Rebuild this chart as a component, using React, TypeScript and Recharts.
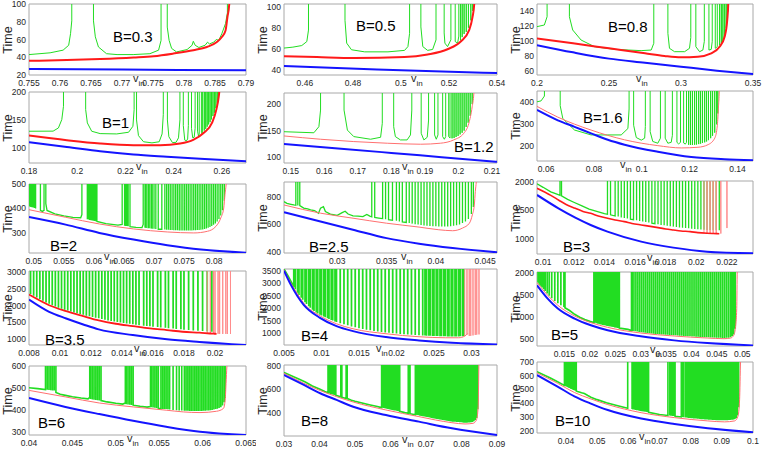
import React from "react";
import { LineChart, Line, XAxis, YAxis, ReferenceArea } from "recharts";

type Pt = [number, number];
type Seg = Pt | Pt[];

// green trace leaves the frame through the top: value used for "off the top"
const T = 1e5;

const INK = "#262626";
const GREEN = "#22dd22";
const BLUE = "#1414ff";

// ---------- B = 0.3 ----------
const X_B03 = [0.755, 0.76, 0.765, 0.77, 0.775, 0.78, 0.785, 0.79];
const Y_B03 = [20, 40, 60, 80, 100];
const BLUE_B03: Pt[] = [[0.755, 26.8], [0.77, 26.1], [0.79, 25.3]];
const RED_B03: Pt[] = [[0.755, 36], [0.7611, 36.8], [0.7665, 37.9], [0.7719, 39.7], [0.7751, 41.2], [0.7783, 44.2], [0.7815, 47.9], [0.7837, 51.6], [0.7853, 57.2], [0.7861, 62.8], [0.7867, 70.2], [0.787, 85], [0.7873, 100], [0.7874, 120]];
const GREEN_B03: Seg[] = [
  [[0.755, 43], [0.7584, 45], [0.7605, 48], [0.7614, 53.5], [0.7617, 66.5], [0.7619, 81]],
  [[0.7654, 81], [0.7657, 63], [0.7662, 51.6], [0.7675, 44], [0.7692, 43], [0.7718, 43], [0.7745, 44], [0.7759, 48], [0.7763, 59]],
  [[0.7773, 74], [0.7776, 59], [0.778, 50], [0.7788, 46], [0.7805, 48.7], [0.7813, 53.5], [0.7815, 58], [0.7818, 53.5], [0.7824, 51], [0.7834, 53.5], [0.7838, 57], [0.7841, 55], [0.7848, 57], [0.7852, 60], [0.7856, 59], [0.7861, 66.5], [0.7867, 78], [0.787, 90]],
];

// ---------- B = 0.5 ----------
const X_B05 = [0.46, 0.48, 0.5, 0.52, 0.54];
const Y_B05 = [40, 60, 80, 100];
const BLUE_B05: Pt[] = [[0.4513, 43.6], [0.49, 40.3], [0.54, 36.8]];
const RED_B05: Pt[] = [[0.4513, 52.8], [0.465, 52], [0.4807, 51.2], [0.5015, 52], [0.5111, 54.5], [0.5194, 59.5], [0.5249, 66.8], [0.5284, 77.7], [0.5298, 90], [0.5305, 102], [0.5307, 120]];
const GREEN_B05: Seg[] = [
  [[0.4513, 60.6], [0.455, 61.5], [0.4587, 63], [0.4608, 66.8], [0.4615, 77.7]],
  [[0.4767, 87], [0.4774, 65.3], [0.4794, 59], [0.4849, 57], [0.4946, 57], [0.5015, 58.4], [0.5029, 62], [0.5036, 74.6]],
  [[0.5083, 80.7], [0.5091, 62], [0.5111, 58.4], [0.5132, 59.3], [0.5146, 68.4]],
  [[0.518, 75], [0.5183, 65.3], [0.5194, 62], [0.5208, 68.4]],
  [[0.5226, 66.8], [0.5236, 65.3], [0.5241, 72]],
  [0.5248, 68], [0.5255, 71], [0.5263, 74], [0.5272, 76], [0.5281, 80], [0.5291, 87], [0.5299, 96],
];

// ---------- B = 0.8 ----------
const X_B08 = [0.2, 0.25, 0.3, 0.35];
const Y_B08 = [60, 80, 100, 120, 140];
const BLUE_B08: Pt[] = [[0.2, 95], [0.225, 85.3], [0.25, 76.9], [0.275, 71.5], [0.3, 66.1], [0.325, 60.8], [0.35, 56.3]];
const RED_B08: Pt[] = [[0.2, 104], [0.225, 97.4], [0.25, 90.7], [0.275, 84], [0.2885, 80.4], [0.3, 78.6], [0.3117, 79.5], [0.321, 84], [0.3268, 92.9], [0.3303, 106.3], [0.3321, 128.6], [0.3328, 150], [0.333, 170]];
const GREEN_B08: Seg[] = [
  [[0.2, 119.7], [0.2051, 121.9], [0.207, 133]],
  [[0.2225, 133], [0.2248, 115.2], [0.2306, 101.8], [0.2399, 92.9], [0.2538, 89.3], [0.2723, 87.6], [0.2793, 88.4], [0.2811, 97.4]],
  [[0.2909, 110.7], [0.292, 90.7], [0.2955, 86.2], [0.3025, 86.2], [0.3059, 90.7], [0.3068, 105]],
  [[0.3103, 92.9], [0.3129, 86.2], [0.3152, 88.4], [0.3162, 100]],
  [[0.3194, 88.4], [0.321, 89.3], [0.3217, 100]],
  [[0.3238, 90.7], [0.3252, 93]],
  [0.3268, 95], [0.328, 97.5], [0.3291, 100], [0.3303, 108], [0.3314, 118], [0.3326, 140],
];

// ---------- B = 1 ----------
const X_B1 = [0.18, 0.2, 0.22, 0.24, 0.26];
const Y_B1 = [100, 150, 200];
const BLUE_B1: Pt[] = [[0.18, 110], [0.1957, 101.8], [0.2095, 94], [0.2233, 88], [0.2372, 84], [0.251, 80.4], [0.27, 76.2]];
const RED_B1: Pt[] = [[0.18, 122], [0.1957, 113.7], [0.2095, 107.8], [0.2233, 104.8], [0.2344, 104.8], [0.2427, 107.8], [0.2483, 114.9], [0.2524, 126.8], [0.2559, 144.7], [0.2577, 168.5], [0.2587, 192], [0.2589, 200], [0.259, 230]];
const GREEN_B1: Seg[] = [
  [[0.18, 129.8], [0.19, 130], [0.1922, 135.7], [0.1936, 150.6], [0.1943, 174.4]],
  [[0.2035, 168.5], [0.2042, 144.7], [0.206, 129.8], [0.2095, 125.6], [0.2164, 125], [0.2213, 128], [0.2231, 138.7], [0.2236, 168.5]],
  [[0.2246, 150], [0.2254, 122], [0.2275, 111], [0.231, 109], [0.234, 111], [0.2352, 125], [0.2357, 160]],
  [[0.2374, 150], [0.238, 120], [0.2395, 109.5], [0.241, 110], [0.242, 118], [0.2426, 150]],
  [[0.244, 140], [0.2446, 114], [0.2452, 112], [0.2458, 116], [0.2461, 140]],
  [[0.2474, 135], [0.2479, 118], [0.2485, 119], [0.2489, 135]],
  [[0.2499, 130], [0.2503, 121], [0.2506, 125]],
  [[0.2515, 128], [0.2518, 125], [0.252, 130]],
  [0.2527, 131], [0.2533, 134], [0.2539, 138], [0.2545, 142], [0.2551, 146], [0.2557, 151], [0.2563, 157], [0.2569, 163], [0.2575, 171], [0.2581, 181], [0.2587, 196],
];

// ---------- B = 1.2 ----------
const X_B12 = [0.15, 0.16, 0.17, 0.18, 0.19, 0.2, 0.21];
const Y_B12 = [100, 150, 200];
const BLUE_B12: Pt[] = [[0.148, 125], [0.165, 116], [0.18, 108], [0.195, 100], [0.2115, 91.3]];
const RED_B12: Pt[] = [[0.148, 140], [0.1589, 133.8], [0.1688, 129.4], [0.1788, 126.3], [0.1887, 124.4], [0.1946, 126.3], [0.1986, 132.5], [0.2016, 145], [0.2031, 163.8], [0.2041, 195], [0.2046, 221], [0.2047, 240]];
const GREEN_B12: Seg[] = [
  [[0.148, 148], [0.1569, 146], [0.1584, 157.5], [0.1589, 188.8]],
  [[0.1659, 188.8], [0.1669, 151], [0.1688, 138.8], [0.1738, 133.8], [0.1768, 137.5], [0.1773, 163.8]],
  [[0.1807, 157.5], [0.1812, 138.8], [0.1827, 132.5], [0.1847, 132.5], [0.1857, 141.9], [0.1861, 188.8]],
  [[0.1889, 145], [0.1897, 132.5], [0.1907, 137.5], [0.1911, 170]],
  [[0.1929, 141.9], [0.1934, 133.8], [0.1939, 141.9]],
  [[0.1953, 138.8], [0.1958, 133.8], [0.1962, 138.8]],
  [[0.1971, 138.8], [0.1975, 136]],
  [0.1981, 135.5], [0.1987, 136], [0.1993, 138], [0.1999, 140], [0.2005, 143], [0.2011, 146], [0.2017, 150], [0.2023, 157], [0.2029, 165], [0.2035, 178], [0.2041, 200],
];

// ---------- B = 1.6 ----------
const X_B16 = [0.06, 0.08, 0.1, 0.12, 0.14];
const Y_B16 = [200, 300, 400];
const BLUE_B16: Pt[] = [[0.0562, 365.8], [0.0649, 318.4], [0.0719, 288.8], [0.0788, 259], [0.0858, 229.6], [0.0928, 207], [0.1067, 175], [0.1207, 151], [0.1346, 140.8], [0.1465, 136.4]];
const RED_B16: Pt[] = [[0.0562, 382], [0.0649, 333], [0.0788, 274], [0.0928, 229.6], [0.1067, 203], [0.1165, 192.6], [0.1235, 195.6], [0.1277, 207.4], [0.1305, 237], [0.1316, 296], [0.1321, 385], [0.1324, 452], [0.1325, 500]];
const GREEN_B16: Seg[] = [
  [[0.0562, 402.8], [0.0579, 407], [0.0593, 429]],
  [[0.0659, 385], [0.067, 326], [0.0719, 274], [0.0788, 251.8], [0.0858, 251.8], [0.0914, 251.8], [0.0942, 281], [0.0947, 370]],
  [[0.0966, 296], [0.0977, 240], [0.0998, 228], [0.1012, 237], [0.1015, 290]],
  [[0.1035, 266.6], [0.1046, 222], [0.1067, 214], [0.1078, 237]],
  [[0.1098, 237], [0.1109, 214], [0.1123, 218], [0.1128, 250]],
  [[0.1147, 218], [0.1154, 211], [0.1162, 218]],
  [[0.1175, 215], [0.1182, 210], [0.1187, 218]],
  [0.1196, 207], [0.1204, 206], [0.1212, 206], [0.1221, 207], [0.1229, 208], [0.1238, 210], [0.1246, 212], [0.1254, 215], [0.1263, 218], [0.1271, 222], [0.1279, 228], [0.1288, 237], [0.1296, 248], [0.1305, 262], [0.1313, 300], [0.1318, 350],
];

// ---------- B = 2 ----------
const X_B2 = [0.05, 0.055, 0.06, 0.065, 0.07, 0.075, 0.08];
const Y_B2 = [300, 400, 500];
const BLUE_B2: Pt[] = [[0.0492, 365], [0.0553, 334], [0.0609, 300], [0.0666, 272.8], [0.0722, 249.7], [0.0778, 232], [0.0853, 219]];
const RED_B2: Pt[] = [[0.0492, 395], [0.0553, 364], [0.0609, 336.7], [0.0666, 316.3], [0.0722, 304], [0.0766, 300], [0.0789, 306.8], [0.0803, 327], [0.0811, 361], [0.0816, 402], [0.0818, 456], [0.082, 501], [0.0821, 540]];
const GREEN_B2: Seg[] = [
  [0.0493, 408], [0.0495, 406], [0.0497, 405], [0.0499, 404], [0.0501, 402], [0.0503, 400],
  [[0.0511, 392], [0.0514, 388], [0.0517, 392]],
  [[0.052, 420], [0.0522, 392], [0.0535, 378], [0.055, 370], [0.0565, 364], [0.0578, 362], [0.058, 375]],
  [0.0589, 356], [0.0591, 355], [0.0593, 353], [0.0595, 352], [0.0597, 351], [0.0599, 350], [0.0601, 349], [0.0603, 348],
  [[0.0605, 347], [0.062, 338], [0.064, 332], [0.0647, 335]],
  [0.0651, 329], [0.0653, 328], [0.0655, 328], [0.0657, 327],
  [[0.066, 326], [0.067, 323], [0.068, 322], [0.0682, 335]],
  [0.0685, 321], [0.0687, 320], [0.069, 319], [0.0692, 319], [0.0695, 318], [0.0697, 317], [0.07, 317], [0.0703, 316],
  [[0.0707, 315], [0.0713, 315]],
  [0.0718, 314], [0.0721, 313], [0.0724, 313], [0.0727, 312], [0.073, 312], [0.0733, 311], [0.0736, 311], [0.0739, 311], [0.0742, 310], [0.0745, 310], [0.0748, 310], [0.0751, 310], [0.0754, 310], [0.0757, 310], [0.076, 310], [0.0763, 310], [0.0766, 311], [0.0769, 311], [0.0772, 312], [0.0775, 312], [0.0778, 313], [0.0781, 314], [0.0784, 316], [0.0787, 318], [0.079, 321], [0.0793, 324], [0.0796, 328], [0.0799, 333], [0.0802, 339], [0.0805, 347], [0.0808, 357], [0.0811, 371], [0.0814, 393], [0.0817, 432],
];

// ---------- B = 2.5 ----------
const X_B25 = [0.03, 0.035, 0.04, 0.045];
const Y_B25 = [400, 600, 800];
const BLUE_B25: Pt[] = [[0.0246, 688], [0.0283, 621], [0.0316, 562], [0.035, 502], [0.0383, 462], [0.0417, 431], [0.0462, 400]];
const RED_B25: Pt[] = [[0.0246, 740], [0.0283, 681], [0.0316, 645], [0.035, 609], [0.0383, 581], [0.0403, 562], [0.0417, 555], [0.0427, 574], [0.0434, 609], [0.0437, 669], [0.0439, 740], [0.044, 836], [0.0441, 905], [0.0442, 1000]];
const GREEN_B25: Seg[] = [
  [[0.0246, 764], [0.0249, 752], [0.0253, 745], [0.0256, 740], [0.0258, 738]],
  [0.026, 736],
  [[0.0262, 735], [0.0266, 717], [0.027, 712], [0.0273, 705], [0.0277, 700], [0.0281, 681], [0.0283, 717], [0.0286, 728], [0.0288, 693], [0.0293, 675], [0.03, 665], [0.0305, 685], [0.0308, 695], [0.0311, 675], [0.0316, 662], [0.0321, 660], [0.0326, 656], [0.033, 672], [0.0333, 660], [0.0335, 655]],
  [[0.0338, 650], [0.0342, 646], [0.0346, 642]],
  [0.0349, 638],
  [[0.0352, 634], [0.0356, 630]],
  [0.036, 626], [0.0363, 622],
  [[0.0366, 618], [0.037, 614]],
  [0.0373, 610], [0.0376, 606], [0.0379, 602], [0.0382, 599], [0.0385, 596], [0.0388, 593], [0.0391, 591], [0.0394, 589], [0.0397, 588], [0.04, 587], [0.0403, 586], [0.0406, 585], [0.0409, 585], [0.0412, 586], [0.0415, 587], [0.0418, 590], [0.0421, 594], [0.0424, 600], [0.0427, 610], [0.043, 622], [0.0433, 640], [0.0436, 675], [0.0438, 725],
];

// ---------- B = 3 ----------
const X_B3 = [0.01, 0.012, 0.014, 0.016, 0.018, 0.02, 0.022];
const Y_B3 = [1000, 1500, 2000];
const BLUE_B3: Pt[] = [[0.0096, 1767], [0.011, 1534], [0.0121, 1372], [0.0131, 1244], [0.0142, 1128], [0.0164, 954], [0.0185, 849], [0.0207, 779], [0.0237, 750]];
const RED_B3: Pt[] = [[0.0096, 1883], [0.0105, 1760], [0.011, 1680], [0.0115, 1600], [0.0121, 1534], [0.0126, 1480], [0.0131, 1447], [0.0136, 1400], [0.0142, 1360], [0.0147, 1330], [0.0153, 1302], [0.0158, 1270], [0.0164, 1244], [0.017, 1220], [0.0175, 1198], [0.018, 1175], [0.0185, 1157], [0.019, 1140], [0.0196, 1128], [0.0201, 1110], [0.0207, 1099], [0.0211, 1095], [0.0215, 1092]];
const RSPK_B3: Seg[] = [[0.0205, 1105], [0.0207, 1100], [0.0209, 1098], [0.0211, 1096], [0.0213, 1095], [0.0216, 1094], [0.022, 1190]];
const GREEN_B3: Seg[] = [
  [[0.0096, 1960], [0.01, 1900], [0.0105, 1820], [0.0109, 1780], [0.0111, 1760]],
  [[0.0112, 1750], [0.0116, 1690], [0.012, 1640], [0.0125, 1580], [0.013, 1520], [0.0135, 1480], [0.014, 1440], [0.0142, 1430]],
  [[0.0144, 1420], [0.0147, 1400]],
  [0.0149, 1390], [0.0151, 1375], [0.0153, 1365], [0.0155, 1355],
  [[0.0157, 1345], [0.0159, 1335]],
  [0.0161, 1325], [0.0163, 1315], [0.0165, 1305], [0.0167, 1295], [0.0169, 1285],
  [[0.0171, 1275], [0.0173, 1265]],
  [0.0175, 1255], [0.0177, 1245], [0.0179, 1238], [0.0181, 1230], [0.0183, 1222], [0.0185, 1215], [0.0187, 1208], [0.0189, 1200], [0.0191, 1195], [0.0193, 1190], [0.0195, 1186], [0.0197, 1180], [0.0199, 1175], [0.0201, 1170], [0.0203, 1165], [0.0205, 1160], [0.0207, 1157], [0.0209, 1155], [0.0211, 1152], [0.0213, 1150], [0.0215, 1150],
];

// ---------- B = 3.5 ----------
const X_B35 = [0.008, 0.01, 0.012, 0.014, 0.016, 0.018, 0.02];
const Y_B35 = [1000, 1500, 2000, 2500, 3000];
const BLUE_B35: Pt[] = [[0.008, 2176], [0.0093, 1813], [0.0104, 1617], [0.0115, 1441], [0.0125, 1294], [0.0147, 1127], [0.0169, 1000], [0.019, 922], [0.022, 833]];
const RED_B35: Pt[] = [[0.008, 2323], [0.0093, 2009], [0.0104, 1833], [0.0115, 1686], [0.0125, 1559], [0.0136, 1461], [0.0147, 1392], [0.0158, 1323], [0.0169, 1274], [0.0179, 1225], [0.019, 1196], [0.0199, 1167], [0.0201, 1164]];
const RSPK_B35: Seg[] = [[0.0195, 1180], [0.0197, 1175], [0.0199, 1168], [0.02, 1166], [0.0202, 1163], [0.0203, 1162], [0.0205, 1160], [0.0207, 1160], [0.0208, 1159], [0.021, 1158]];
const GREEN_B35: Seg[] = [
  [0.0081, 2340], [0.0083, 2290], [0.0085, 2240], [0.0087, 2190], [0.0089, 2140], [0.0091, 2090], [0.0093, 2050], [0.0095, 2010], [0.0097, 1970], [0.0099, 1935], [0.0101, 1905], [0.0103, 1875], [0.0105, 1850], [0.0107, 1820], [0.0109, 1795], [0.0111, 1770], [0.0113, 1750], [0.0115, 1725], [0.0117, 1700], [0.0119, 1680], [0.0121, 1660], [0.0123, 1640], [0.0125, 1620], [0.0127, 1600], [0.0129, 1580], [0.0131, 1560], [0.0133, 1545], [0.0135, 1530], [0.0137, 1515], [0.0139, 1500], [0.0141, 1485], [0.0143, 1470], [0.0145, 1458], [0.0147, 1445], [0.0149, 1432], [0.0151, 1420], [0.0154, 1405], [0.0156, 1395], [0.0158, 1385], [0.016, 1375], [0.0163, 1362], [0.0165, 1352], [0.0168, 1340], [0.017, 1330], [0.0173, 1318], [0.0175, 1308], [0.0178, 1295], [0.018, 1285], [0.0183, 1275], [0.0186, 1265], [0.0189, 1255], [0.0192, 1245], [0.0195, 1235], [0.0198, 1225],
];

// ---------- B = 4 ----------
const X_B4 = [0.005, 0.01, 0.015, 0.02, 0.025, 0.03];
const Y_B4 = [1000, 1500, 2000, 2500, 3000, 3500];
const BLUE_B4: Pt[] = [[0.005, 3495], [0.0059, 2940], [0.0068, 2478], [0.0076, 2148], [0.0098, 1620], [0.012, 1290], [0.0142, 1092], [0.0186, 855], [0.023, 723], [0.0274, 630], [0.0334, 564]];
const RED_B4: Pt[] = [[0.005, 3534], [0.0059, 3006], [0.0068, 2570], [0.0076, 2214], [0.0098, 1700], [0.012, 1383], [0.0142, 1185], [0.0186, 987], [0.023, 868], [0.0265, 828], [0.0283, 828], [0.0291, 894], [0.0295, 1000]];
const RSPK_B4: Seg[] = [[0.0291, 894], [0.0294, 950], [0.0297, 900], [0.0299, 905], [0.0302, 920], [0.0305, 940], [0.0307, 950], [0.031, 960]];
const GREEN_B4: Seg[] = [
  [[0.005, 3560], [0.0055, 3300], [0.006, 3030], [0.0063, 2850]],
  [0.0065, 2760], [0.0068, 2620], [0.007, 2530], [0.0073, 2420], [0.0075, 2340], [0.0078, 2240], [0.008, 2170], [0.0083, 2080], [0.0085, 2020], [0.0088, 1940], [0.009, 1890], [0.0093, 1830], [0.0095, 1790], [0.0098, 1740], [0.01, 1710], [0.0103, 1670], [0.0105, 1640], [0.0108, 1600], [0.011, 1570], [0.0113, 1535], [0.0115, 1510], [0.0118, 1478], [0.012, 1455], [0.0125, 1405], [0.013, 1360], [0.0135, 1320], [0.014, 1280], [0.0145, 1245], [0.015, 1210], [0.0155, 1180], [0.016, 1150], [0.0165, 1125], [0.017, 1100], [0.0175, 1078], [0.018, 1058], [0.0185, 1040], [0.019, 1025], [0.0195, 1010], [0.02, 995], [0.0205, 980], [0.021, 968], [0.0215, 957], [0.022, 947], [0.0225, 937], [0.023, 928], [0.0235, 920], [0.0238, 916], [0.024, 912], [0.0243, 908], [0.0245, 905], [0.0248, 902], [0.025, 899], [0.0253, 896], [0.0255, 893], [0.0258, 890], [0.026, 888], [0.0263, 886], [0.0265, 884], [0.0268, 882], [0.027, 880], [0.0273, 879], [0.0275, 878], [0.0278, 878], [0.028, 878], [0.0283, 880], [0.0285, 883], [0.0288, 888], [0.029, 895],
];

// ---------- B = 5 ----------
const X_B5 = [0.015, 0.02, 0.025, 0.03, 0.035, 0.04, 0.045, 0.05];
const Y_B5 = [500, 1000, 1500, 2000];
const BLUE_B5: Pt[] = [[0.0096, 1721], [0.0117, 1420], [0.0137, 1194], [0.017, 967], [0.0202, 817], [0.0235, 704], [0.03, 568], [0.0366, 477], [0.0431, 417], [0.0521, 364]];
const RED_B5: Pt[] = [[0.0096, 1782], [0.0117, 1495], [0.0137, 1269], [0.017, 1028], [0.0202, 877], [0.0235, 771], [0.03, 643], [0.0366, 575], [0.0431, 530], [0.0464, 515], [0.0477, 530], [0.0483, 590], [0.0487, 817], [0.0489, 1194], [0.049, 2020], [0.0491, 2200]];
const GREEN_B5: Seg[] = [
  [0.0098, 1785], [0.01, 1755], [0.0102, 1725], [0.0104, 1700], [0.0106, 1670], [0.0109, 1630], [0.0112, 1590], [0.0116, 1535], [0.012, 1485], [0.0125, 1425], [0.0131, 1365], [0.0137, 1315], [0.0143, 1270], [0.0149, 1230],
  [[0.0151, 1215], [0.016, 1150], [0.017, 1065], [0.018, 1000], [0.019, 945], [0.02, 905], [0.0208, 880]],
  [0.021, 872], [0.0213, 862], [0.0216, 852], [0.0219, 843], [0.0222, 834], [0.0225, 826], [0.0228, 818], [0.0231, 810], [0.0234, 802], [0.0237, 795], [0.024, 788], [0.0243, 782], [0.0246, 776], [0.0249, 770], [0.0252, 764], [0.0255, 758],
  [[0.0258, 754], [0.0265, 742], [0.0275, 725], [0.0282, 700]],
  [0.0285, 690], [0.0289, 682], [0.0293, 675], [0.0297, 668], [0.0301, 661], [0.0305, 655], [0.0309, 649], [0.0313, 643], [0.0317, 638], [0.0321, 633], [0.0325, 628], [0.0329, 623], [0.0333, 619], [0.0337, 615], [0.0341, 611], [0.0345, 608], [0.0349, 605], [0.0353, 602], [0.0357, 599], [0.0361, 596], [0.0365, 593], [0.0369, 590], [0.0373, 587], [0.0377, 584], [0.0381, 581], [0.0385, 578], [0.0389, 575], [0.0393, 572], [0.0397, 569], [0.0401, 566], [0.0405, 563], [0.0409, 560], [0.0413, 557], [0.0417, 554], [0.0421, 552], [0.0425, 549], [0.0429, 547], [0.0433, 545], [0.0437, 543], [0.0441, 541], [0.0445, 539], [0.0449, 537], [0.0453, 535], [0.0457, 534], [0.0461, 533], [0.0465, 533], [0.0469, 534], [0.0473, 537], [0.0477, 548], [0.048, 575], [0.0483, 610], [0.0486, 740],
];

// ---------- B = 6 ----------
const X_B6 = [0.04, 0.045, 0.05, 0.055, 0.06, 0.065];
const Y_B6 = [300, 400, 500, 600];
const BLUE_B6: Pt[] = [[0.04, 455], [0.0442, 414], [0.0481, 381], [0.052, 350], [0.0558, 323], [0.0597, 300], [0.065, 285]];
const RED_B6: Pt[] = [[0.04, 490], [0.0442, 460], [0.0481, 432], [0.052, 414], [0.0558, 399], [0.0578, 391], [0.0597, 388], [0.0616, 394], [0.0624, 407], [0.0626, 445], [0.0627, 521], [0.0628, 601], [0.0629, 650]];
const GREEN_B6: Seg[] = [
  [[0.04, 502], [0.041, 498], [0.0419, 494]],
  [0.0421, 493], [0.0423, 492], [0.0425, 491], [0.0427, 490], [0.0429, 489],
  [[0.0431, 480], [0.0436, 472], [0.0442, 467], [0.045, 461], [0.046, 455], [0.0468, 451], [0.047, 458]],
  [0.0471, 450], [0.0473, 448], [0.0475, 447], [0.0477, 446], [0.0479, 445], [0.0481, 444],
  [[0.0483, 443], [0.049, 437], [0.05, 431], [0.0508, 427], [0.0511, 432]],
  [0.0512, 426], [0.0514, 425], [0.0516, 424], [0.0518, 423],
  [[0.052, 422], [0.0528, 417], [0.0536, 413], [0.054, 416]],
  [0.0541, 412], [0.0543, 411], [0.0545, 410], [0.0547, 409],
  [[0.0549, 408], [0.0552, 406]],
  [0.0554, 405], [0.0556, 404], [0.0558, 404], [0.056, 403], [0.0562, 402], [0.0566, 400], [0.057, 399], [0.0573, 398], [0.0576, 397], [0.0579, 396],
  [0.0581, 396], [0.0583, 396], [0.0585, 395], [0.0587, 395], [0.0589, 395], [0.0591, 395], [0.0593, 395], [0.0595, 395], [0.0597, 395], [0.0599, 395], [0.0601, 396], [0.0603, 396], [0.0605, 397], [0.0607, 398], [0.0609, 399], [0.0611, 400], [0.0613, 402], [0.0615, 404], [0.0617, 406], [0.0619, 409], [0.0621, 413], [0.0623, 420], [0.0625, 435], [0.0626, 455],
];

// ---------- B = 8 ----------
const X_B8 = [0.03, 0.04, 0.05, 0.06, 0.07, 0.08, 0.09];
const Y_B8 = [400, 600, 800];
const BLUE_B8: Pt[] = [[0.03, 723], [0.0356, 637], [0.0402, 566], [0.0448, 509], [0.0495, 451], [0.0587, 380], [0.068, 323], [0.0773, 266], [0.09, 209]];
const RED_B8: Pt[] = [[0.03, 737], [0.0356, 651], [0.0402, 589], [0.0448, 537], [0.0495, 491], [0.0587, 423], [0.068, 366], [0.0727, 337], [0.0773, 314], [0.081, 303], [0.0833, 309], [0.0842, 337], [0.0847, 451], [0.0849, 808], [0.085, 900]];
const GREEN_B8: Seg[] = [
  [[0.03, 745], [0.034, 690], [0.036, 662], [0.038, 628], [0.04, 602], [0.0415, 581], [0.0424, 570]],
  [0.0426, 568], [0.0428, 565], [0.043, 562], [0.0432, 560], [0.0434, 558], [0.0437, 555], [0.044, 554], [0.0443, 551],
  [[0.0446, 549], [0.0455, 540], [0.046, 535]],
  [[0.0463, 532], [0.047, 526], [0.0475, 522]],
  [[0.0478, 520], [0.048, 518], [0.049, 507], [0.05, 498], [0.052, 483], [0.054, 468], [0.056, 454], [0.0575, 443]],
  [0.0578, 441], [0.0581, 439], [0.0584, 437], [0.0587, 435], [0.059, 433], [0.0593, 431], [0.0596, 429], [0.0599, 427], [0.0602, 425], [0.0605, 423], [0.0608, 421], [0.0611, 419], [0.0614, 418], [0.0617, 416], [0.062, 414], [0.0623, 413],
  [[0.0626, 411], [0.064, 400], [0.065, 394]],
  [0.0652, 393],
  [[0.0655, 391], [0.067, 382]],
  [0.0671, 381], [0.0675, 379], [0.0679, 377], [0.0683, 374], [0.0687, 372], [0.0691, 370], [0.0695, 367], [0.0699, 365], [0.0703, 362], [0.0707, 360], [0.0711, 358], [0.0715, 355], [0.0719, 353], [0.0723, 350], [0.0727, 347], [0.0731, 345], [0.0735, 343], [0.0739, 341], [0.0743, 339], [0.0747, 337], [0.0751, 335], [0.0755, 333], [0.0759, 331], [0.0763, 329], [0.0767, 327], [0.0771, 325], [0.0775, 323], [0.0779, 322], [0.0783, 321], [0.0787, 320], [0.0791, 319], [0.0795, 318], [0.0799, 317], [0.0803, 315], [0.0807, 314], [0.0811, 313], [0.0815, 314], [0.0819, 315], [0.0823, 316], [0.0827, 318], [0.0831, 320], [0.0835, 326], [0.0839, 336], [0.0843, 355], [0.0846, 430],
];

// ---------- B = 10 ----------
const X_B10 = [0.04, 0.05, 0.06, 0.07, 0.08, 0.09, 0.1];
const Y_B10 = [200, 300, 400, 500, 600, 700];
const BLUE_B10: Pt[] = [[0.0307, 605], [0.0373, 521], [0.0427, 450], [0.048, 397], [0.0534, 350], [0.0641, 288], [0.0748, 248], [0.0855, 217], [0.1, 188]];
const RED_B10: Pt[] = [[0.0307, 621], [0.0373, 545], [0.0427, 478], [0.048, 431], [0.0534, 390], [0.0641, 331], [0.0748, 295], [0.0855, 271], [0.0909, 264], [0.0941, 271], [0.0952, 307], [0.0957, 426], [0.096, 700], [0.0961, 760]];
const GREEN_B10: Seg[] = [
  [[0.0307, 630], [0.035, 583], [0.0373, 556], [0.0395, 530]],
  [0.04, 524], [0.0403, 520], [0.0406, 517], [0.0409, 513], [0.0412, 510], [0.0415, 506], [0.0418, 503], [0.0421, 500], [0.0424, 497], [0.0427, 494], [0.043, 491],
  [[0.0433, 489], [0.0437, 485], [0.0445, 480], [0.045, 476], [0.0459, 470], [0.047, 456], [0.048, 444], [0.05, 426], [0.053, 403], [0.056, 385], [0.0598, 363]],
  [0.0612, 357], [0.0615, 355], [0.0618, 354], [0.0621, 352], [0.0624, 351], [0.0627, 349], [0.063, 348], [0.0633, 347], [0.0636, 345], [0.0639, 344], [0.0642, 342], [0.0645, 341], [0.0648, 340], [0.0651, 339], [0.0654, 338], [0.0657, 337], [0.066, 336],
  [[0.0665, 334], [0.07, 318], [0.0727, 311]],
  [0.0733, 310], [0.0736, 309], [0.0739, 308], [0.0742, 307], [0.0745, 306],
  [[0.075, 305], [0.077, 300]],
  [0.0774, 299], [0.0777, 298], [0.0783, 296],
  [0.0786, 295], [0.079, 294], [0.0794, 293], [0.0798, 292], [0.0802, 291], [0.0806, 290], [0.081, 289], [0.0814, 288], [0.0818, 288], [0.0822, 287], [0.0826, 286], [0.083, 285], [0.0834, 284], [0.0838, 283], [0.0842, 283], [0.0846, 282], [0.085, 281], [0.0854, 281], [0.0858, 280], [0.0862, 279], [0.0866, 279], [0.087, 278], [0.0874, 277], [0.0878, 277], [0.0882, 276], [0.0886, 276], [0.089, 275], [0.0894, 275], [0.0898, 275], [0.0902, 275], [0.0906, 275], [0.091, 275], [0.0914, 276], [0.0918, 276], [0.0922, 277], [0.0926, 278], [0.093, 279], [0.0934, 280], [0.0938, 282], [0.0942, 285], [0.0946, 292], [0.095, 310], [0.0954, 370],
];

type PanelDef = {
  label: string;
  box: [number, number, number, number]; // plot frame: left, top, right, bottom (px)
  xd: [number, number];
  yd: [number, number];
  xt: number[];
  yt: number[];
  blue: Pt[];
  red: Pt[];
  redSpikes?: Seg[];
  green: Seg[];
  redW: number;
  greenW: number;
  bx: number; // label left
  by: number; // label baseline
  vx: number; // x-label left
};

const PANELS: PanelDef[] = [
  { label: "B=0.3", box: [29, 4, 246, 75], xd: [0.755, 0.79], yd: [20, 100], xt: X_B03, yt: Y_B03, blue: BLUE_B03, red: RED_B03, green: GREEN_B03, redW: 2, greenW: 1, bx: 113, by: 42, vx: 133 },
  { label: "B=0.5", box: [284, 4, 497, 75], xd: [0.4513, 0.54], yd: [35, 102.5], xt: X_B05, yt: Y_B05, blue: BLUE_B05, red: RED_B05, green: GREEN_B05, redW: 2, greenW: 1, bx: 356, by: 31, vx: 411 },
  { label: "B=0.8", box: [537, 4, 753, 75], xd: [0.2, 0.35], yd: [55, 150], xt: X_B08, yt: Y_B08, blue: BLUE_B08, red: RED_B08, green: GREEN_B08, redW: 2, greenW: 1, bx: 608, by: 32, vx: 636 },
  { label: "B=1", box: [29, 92, 246, 163], xd: [0.18, 0.27], yd: [73, 200], xt: X_B1, yt: Y_B1, blue: BLUE_B1, red: RED_B1, green: GREEN_B1, redW: 2, greenW: 1, bx: 102, by: 128, vx: 136 },
  { label: "B=1.2", box: [284, 93, 497, 163], xd: [0.148, 0.2115], yd: [89, 221], xt: X_B12, yt: Y_B12, blue: BLUE_B12, red: RED_B12, green: GREEN_B12, redW: 1, greenW: 1, bx: 454, by: 152, vx: 402 },
  { label: "B=1.6", box: [537, 91, 753, 161], xd: [0.0562, 0.1465], yd: [133, 452], xt: X_B16, yt: Y_B16, blue: BLUE_B16, red: RED_B16, green: GREEN_B16, redW: 1, greenW: 1, bx: 583, by: 123, vx: 620 },
  { label: "B=2", box: [29, 184, 246, 253], xd: [0.0492, 0.0853], yd: [218, 500], xt: X_B2, yt: Y_B2, blue: BLUE_B2, red: RED_B2, green: GREEN_B2, redW: 1, greenW: 1.3, bx: 50, by: 251, vx: 104 },
  { label: "B=2.5", box: [284, 182, 497, 253], xd: [0.0246, 0.0462], yd: [395, 905], xt: X_B25, yt: Y_B25, blue: BLUE_B25, red: RED_B25, green: GREEN_B25, redW: 1, greenW: 1.3, bx: 309, by: 252, vx: 401 },
  { label: "B=3", box: [537, 181, 753, 254], xd: [0.0096, 0.0237], yd: [738, 2010], xt: X_B3, yt: Y_B3, blue: BLUE_B3, red: RED_B3, redSpikes: RSPK_B3, green: GREEN_B3, redW: 1.6, greenW: 1.3, bx: 563, by: 252, vx: 647 },
  { label: "B=3.5", box: [29, 271, 246, 345], xd: [0.008, 0.022], yd: [833, 3020], xt: X_B35, yt: Y_B35, blue: BLUE_B35, red: RED_B35, redSpikes: RSPK_B35, green: GREEN_B35, redW: 1.8, greenW: 1.7, bx: 45, by: 345, vx: 134 },
  { label: "B=4", box: [284, 269, 497, 345], xd: [0.005, 0.0334], yd: [540, 3560], xt: X_B4, yt: Y_B4, blue: BLUE_B4, red: RED_B4, redSpikes: RSPK_B4, green: GREEN_B4, redW: 1, greenW: 1.7, bx: 301, by: 341, vx: 376 },
  { label: "B=5", box: [537, 272, 753, 346], xd: [0.0096, 0.0521], yd: [350, 2020], xt: X_B5, yt: Y_B5, blue: BLUE_B5, red: RED_B5, green: GREEN_B5, redW: 1, greenW: 1.7, bx: 551, by: 340, vx: 650 },
  { label: "B=6", box: [29, 366, 246, 435], xd: [0.04, 0.065], yd: [285, 602], xt: X_B6, yt: Y_B6, blue: BLUE_B6, red: RED_B6, green: GREEN_B6, redW: 1, greenW: 1.6, bx: 38, by: 428, vx: 127 },
  { label: "B=8", box: [284, 365, 497, 436], xd: [0.03, 0.09], yd: [200, 808], xt: X_B8, yt: Y_B8, blue: BLUE_B8, red: RED_B8, green: GREEN_B8, redW: 1, greenW: 1.6, bx: 301, by: 426, vx: 402 },
  { label: "B=10", box: [537, 362, 753, 433], xd: [0.0307, 0.1], yd: [183, 700], xt: X_B10, yt: Y_B10, blue: BLUE_B10, red: RED_B10, green: GREEN_B10, redW: 1, greenW: 1.6, bx: 555, by: 426, vx: 639 },
];

const rows = (pts: Pt[]) => pts.map(([x, y]) => ({ x, y }));

// each segment ends by leaving the frame through the top
function spikeRows(segs: Seg[]) {
  const out: { x: number; y: number }[] = [];
  for (const s of segs) {
    const pts = (typeof s[0] === "number" ? [s] : s) as Pt[];
    for (const [x, y] of pts) out.push({ x, y });
    out.push({ x: pts[pts.length - 1][0], y: T });
  }
  return out;
}

const tickStyle = { fontSize: 8.5, fill: INK };

function Panel({ p }: { p: PanelDef }) {
  const [L, top, R, B] = p.box;
  const w = R - L + 40;
  const h = B - top + 24;
  const thick = p.redW > 1;
  return (
    <>
      <div style={{ position: "absolute", left: L - 30, top: top - 4 }}>
        <LineChart width={w} height={h} margin={{ top: 4, right: 10, bottom: 0, left: 0 }}>
          <XAxis
            type="number"
            dataKey="x"
            domain={p.xd}
            ticks={p.xt}
            interval={0}
            allowDataOverflow
            height={20}
            axisLine={false}
            tickLine={false}
            tickSize={0}
            tickMargin={5}
            tick={tickStyle}
          />
          <YAxis
            type="number"
            domain={p.yd}
            ticks={p.yt}
            interval={0}
            allowDataOverflow
            width={30}
            axisLine={false}
            tickLine={false}
            tickSize={0}
            tickMargin={3}
            tick={tickStyle}
          />
          <ReferenceArea
            x1={p.xd[0]}
            x2={p.xd[1]}
            y1={p.yd[0]}
            y2={p.yd[1]}
            fill="none"
            stroke="#a8a8a8"
            strokeWidth={1}
            ifOverflow="visible"
          />
          <Line data={spikeRows(p.green)} dataKey="y" stroke={GREEN} strokeWidth={p.greenW} dot={false} activeDot={false} isAnimationActive={false} />
          {p.redSpikes && (
            <Line data={spikeRows(p.redSpikes)} dataKey="y" stroke="#ff8c8c" strokeWidth={1} dot={false} activeDot={false} isAnimationActive={false} />
          )}
          <Line
            data={rows(p.red)}
            dataKey="y"
            type="monotone"
            stroke={thick ? "#ff1a1a" : "#ff7070"}
            strokeWidth={p.redW}
            dot={false}
            activeDot={false}
            isAnimationActive={false}
          />
          <Line data={rows(p.blue)} dataKey="y" type="monotone" stroke={BLUE} strokeWidth={2} dot={false} activeDot={false} isAnimationActive={false} />
        </LineChart>
      </div>
      <div
        style={{
          position: "absolute",
          left: L - 21,
          top: (top + B) / 2,
          transform: "translate(-50%, -50%) rotate(-90deg)",
          fontSize: 12.5,
          lineHeight: 1,
          color: INK,
          whiteSpace: "nowrap",
        }}
      >
        Time
      </div>
      <div style={{ position: "absolute", left: p.bx, top: p.by - 12.7, fontSize: 15, lineHeight: 1, color: "#000", whiteSpace: "nowrap" }}>
        {p.label}
      </div>
      <div style={{ position: "absolute", left: p.vx, top: B + 7 - 9.3, fontSize: 11, lineHeight: 1, color: INK, whiteSpace: "nowrap" }}>
        v<span style={{ fontSize: 8, position: "relative", top: 4 }}>in</span>
      </div>
    </>
  );
}

export default function App() {
  return (
    <div
      style={{
        position: "absolute",
        left: 0,
        top: 0,
        width: 762,
        height: 450,
        background: "#fff",
        fontFamily: "'Liberation Sans', Arial, Helvetica, sans-serif",
      }}
    >
      {PANELS.map((p) => (
        <Panel key={p.label} p={p} />
      ))}
    </div>
  );
}
